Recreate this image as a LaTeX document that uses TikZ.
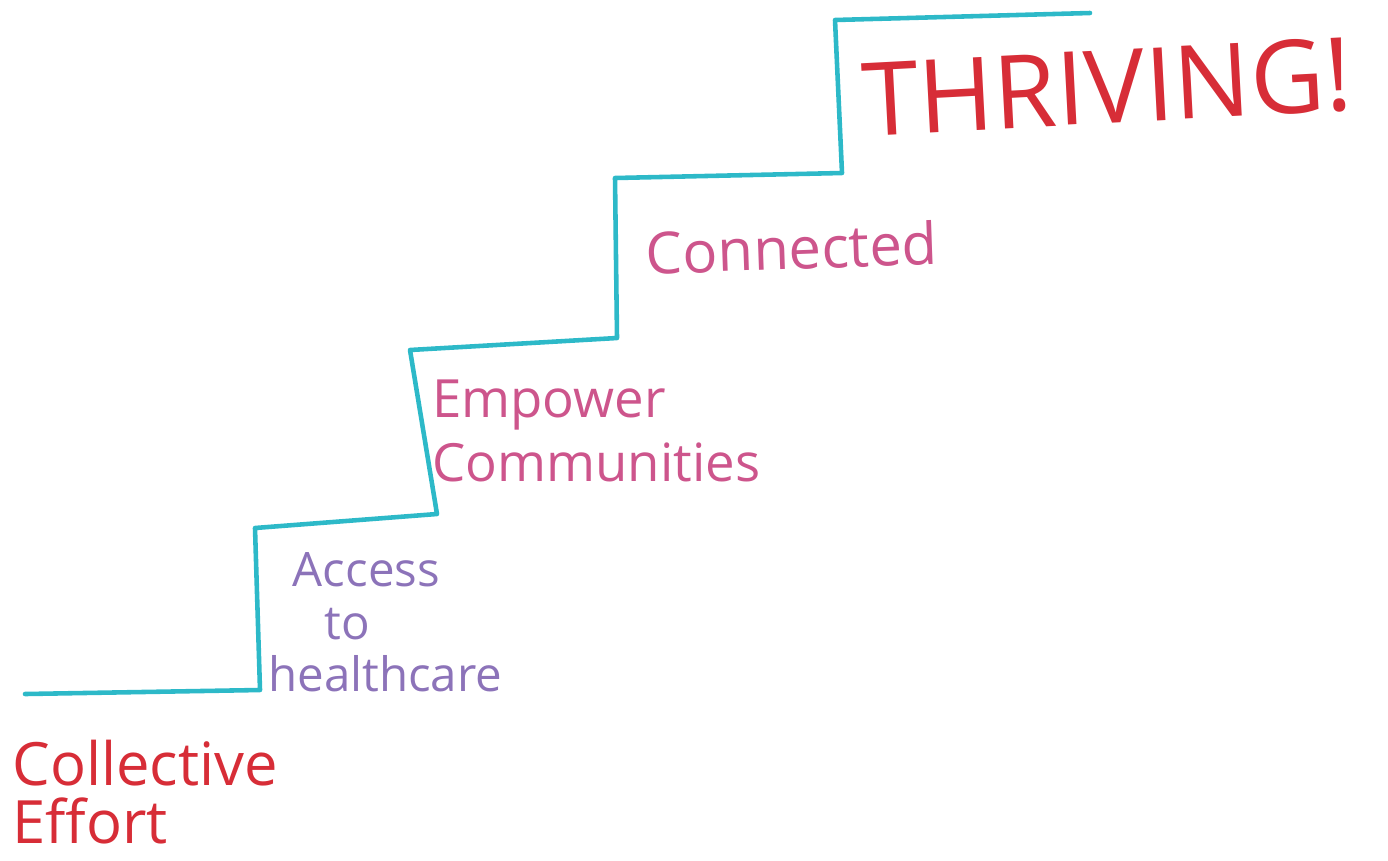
\documentclass[tikz,border=0pt]{standalone}
\usepackage{fontspec}
\setmainfont{Open Sans}
\definecolor{stairblue}{RGB}{45,185,200}
\definecolor{crayonred}{RGB}{215,45,55}
\definecolor{crayonpink}{RGB}{205,85,140}
\definecolor{crayonlilac}{RGB}{140,115,185}

\begin{document}
\begin{tikzpicture}[
x=0.02cm,y=-0.02cm,
stair/.style={draw=stairblue,line width=2.6pt,line join=round,line cap=round},
label/.style={align=left,inner sep=0pt},
small/.style={label,font=\fontsize{30}{36}\selectfont},
big/.style={label,font=\fontsize{34}{33}\selectfont}
]

\useasboundingbox (0,0) rectangle (1388,860);

% =======================
% STAIRCASE
% =======================

\coordinate (s0) at (25,694);
\coordinate (s1) at (260,690);
\coordinate (s2) at (255,528);
\coordinate (s3) at (437,514);
\coordinate (s4) at (410,350);
\coordinate (s5) at (617,338);
\coordinate (s6) at (615,178);
\coordinate (s7) at (842,173);
\coordinate (s8) at (835,20);
\coordinate (s9) at (1090,13);

\draw[stair] (s0) -- (s1) -- (s2) -- (s3) -- (s4) -- (s5) -- (s6) -- (s7) -- (s8) -- (s9);

% =======================
% STEP LABELS
% =======================

\node[big,text=crayonred,anchor=north west] (effort) at (12,740)
{Collective\\Effort};

\node[small,text=crayonlilac,anchor=north west,font=\fontsize{27}{30}\selectfont] (access) at (268,552)
{\hspace*{14pt}Access\\\hspace*{32pt}to\\healthcare};

\node[small,text=crayonpink,anchor=north west] (empower) at (432,380)
{Empower\\Communities};

\node[small,text=crayonpink,anchor=north west,font=\fontsize{33}{36}\selectfont,rotate=2] (connected) at (645,230)
{Connected};

\node[label,text=crayonred,anchor=north west,font=\fontsize{58}{60}\selectfont,rotate=3] (thriving) at (860,62)
{THRIVING!};

\end{tikzpicture}
\end{document}
